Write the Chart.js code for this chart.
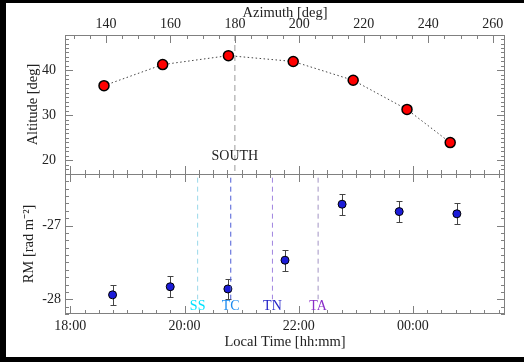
<!DOCTYPE html>
<html><head><meta charset="utf-8">
<script src="https://cdn.jsdelivr.net/npm/chart.js@4/dist/chart.umd.min.js"></script>
<style>
html,body{margin:0;padding:0;background:#000;width:100%;height:100%;overflow:hidden}
#wrap{position:absolute;left:6px;right:0;top:3px;height:354px;background:#fff}
canvas{position:absolute;left:0}
#c1{top:0}
#c2{top:171px}
</style></head><body>
<div id="wrap"><canvas id="c1" width="518" height="171"></canvas><canvas id="c2" width="518" height="183"></canvas></div>
<script>
// ---- data ----
const AZIMUTH = [139.4, 157.6, 178.0, 198.1, 216.7, 233.4, 246.8];
const ALTITUDE = [36.6, 41.3, 43.3, 42.0, 37.8, 31.3, 23.9];
const LOCAL_TIME_H = [18.74, 19.75, 20.76, 21.76, 22.76, 23.76, 24.77];
const RM = [-27.94, -27.83, -27.86, -27.47, -26.71, -26.81, -26.84];
const RM_ERR = [0.14, 0.14, 0.14, 0.14, 0.14, 0.14, 0.14];
const EVENT_NAMES = ['SS', 'TC', 'TN', 'TA'];
const EVENT_TIME_H = [20.23, 20.81, 21.54, 22.34];
const EVENT_LINE_COLORS = ['#9ad8ea', '#4b5bd6', '#a084e0', '#a394c4'];
const EVENT_TEXT_COLORS = ['#00e2ff', '#1e8cf0', '#2424c8', '#8a2ec8'];
const SOUTH_AZIMUTH = 180;
const AZ_TICKS = [140, 160, 180, 200, 220, 240, 260];
const ALT_TICKS = [20, 30, 40];
const TIME_TICKS = [18, 20, 22, 24];
const TIME_TICK_LABELS = ['18:00', '20:00', '22:00', '00:00'];
const RM_TICKS = [-28, -27];
const RM_TICK_LABELS = ['-28', '-27'];
// axis ranges
const AZ_RANGE = [127.3, 263.8];
const ALT_RANGE = [16.9, 47.9];
const TIME_RANGE = [17.907, 25.613];
const RM_RANGE = [-28.20, -26.30];

Chart.defaults.font.family = "'Liberation Serif', 'Times New Roman', serif";
Chart.defaults.color = '#222';
const FRAME = '#808080';
const TICK_FONT = {size: 14};
const TITLE_FONT = {size: 14.5};

function noPad(s) { s.paddingTop = 0; s.paddingBottom = 0; s.paddingLeft = 0; s.paddingRight = 0; }

function tickMarks(chart, scaleId, side, majors, minorStep) {
  const s = chart.scales[scaleId], a = chart.chartArea, ctx = chart.ctx;
  const lo = Math.min(s.min, s.max), hi = Math.max(s.min, s.max);
  ctx.beginPath();
  for (let k = Math.ceil(lo / minorStep - 1e-9); k * minorStep <= hi + 1e-9; k++) {
    const v = k * minorStep;
    const maj = majors.some(m => Math.abs(m - v) < minorStep / 10);
    const len = maj ? 8 : 4;
    const p = Math.round(s.getPixelForValue(v)) + 0.5;
    if (side === 'top') { ctx.moveTo(p, a.top); ctx.lineTo(p, a.top + len); }
    if (side === 'bottom') { ctx.moveTo(p, a.bottom); ctx.lineTo(p, a.bottom - len); }
    if (side === 'left') { ctx.moveTo(a.left, p); ctx.lineTo(a.left + len, p); }
    if (side === 'right') { ctx.moveTo(a.right, p); ctx.lineTo(a.right - len, p); }
  }
  ctx.stroke();
}

function frame(chart, sides) {
  const a = chart.chartArea, ctx = chart.ctx;
  const L = Math.round(a.left) + 0.5, R = Math.round(a.right) - 0.5;
  const T = Math.round(a.top) + 0.5, B = Math.round(a.bottom) - 0.5;
  ctx.beginPath();
  if (sides.includes('top')) { ctx.moveTo(L, T); ctx.lineTo(R, T); }
  if (sides.includes('bottom')) { ctx.moveTo(L, B); ctx.lineTo(R, B); }
  ctx.moveTo(L, a.top); ctx.lineTo(L, a.bottom);
  ctx.moveTo(R, a.top); ctx.lineTo(R, a.bottom);
  ctx.stroke();
}

// ---------------- top panel ----------------
const topPlugin = {
  id: 'topDeco',
  afterDatasetsDraw(chart) {
    const ctx = chart.ctx;
    ctx.save();
    ctx.strokeStyle = FRAME; ctx.lineWidth = 1;
    frame(chart, ['top']);
    tickMarks(chart, 'xAz', 'top', AZ_TICKS, 5);
    tickMarks(chart, 'xTime', 'bottom', TIME_TICKS, 0.25);
    tickMarks(chart, 'yAlt', 'left', ALT_TICKS, 1);
    tickMarks(chart, 'yAlt', 'right', ALT_TICKS, 1);
    ctx.fillStyle = '#222';
    ctx.font = "14px 'Liberation Serif', serif";
    ctx.textAlign = 'center'; ctx.textBaseline = 'middle';
    ctx.fillText('SOUTH', chart.scales.xAz.getPixelForValue(SOUTH_AZIMUTH), chart.scales.yAlt.getPixelForValue(20.75));
    ctx.restore();
  }
};

new Chart(document.getElementById('c1'), {
  type: 'scatter',
  data: {
    datasets: [
      {
        data: [{x: SOUTH_AZIMUTH, y: ALT_RANGE[1]}, {x: SOUTH_AZIMUTH, y: ALT_RANGE[0]}],
        xAxisID: 'xAz', yAxisID: 'yAlt', showLine: true, pointRadius: 0,
        borderColor: '#9a9a9a', borderWidth: 1, borderDash: [6, 4]
      },
      {
        data: AZIMUTH.map((az, i) => ({x: az, y: ALTITUDE[i]})),
        xAxisID: 'xAz', yAxisID: 'yAlt', showLine: true,
        borderColor: '#444', borderWidth: 1, borderDash: [1.5, 2.5],
        pointRadius: 5, pointBackgroundColor: '#ff0000', pointBorderColor: '#000', pointBorderWidth: 1.5
      }
    ]
  },
  options: {
    responsive: false, animation: false, devicePixelRatio: 1,
    layout: {autoPadding: false, padding: {left: 0, right: 19, top: 0, bottom: 0}},
    plugins: {legend: {display: false}, tooltip: {enabled: false}},
    scales: {
      xAz: {
        type: 'linear', axis: 'x', position: 'top', min: AZ_RANGE[0], max: AZ_RANGE[1],
        afterBuildTicks: s => { s.ticks = AZ_TICKS.map(v => ({value: v})); },
        ticks: {font: TICK_FONT, padding: 2, maxRotation: 0, autoSkip: false, callback: v => String(v)},
        grid: {display: false, drawTicks: false}, border: {display: false},
        title: {display: true, text: 'Azimuth [deg]', font: TITLE_FONT, padding: {top: 1, bottom: 0}},
        afterFit: s => { s.height = 32; noPad(s); }
      },
      xTime: {
        type: 'linear', axis: 'x', position: 'bottom', display: false, min: TIME_RANGE[0], max: TIME_RANGE[1],
        ticks: {display: false}, afterFit: s => { s.height = 0; noPad(s); }
      },
      yAlt: {
        type: 'linear', axis: 'y', position: 'left', min: ALT_RANGE[0], max: ALT_RANGE[1],
        afterBuildTicks: s => { s.ticks = ALT_TICKS.map(v => ({value: v})); },
        ticks: {font: TICK_FONT, padding: 9, callback: v => String(v)},
        grid: {display: false, drawTicks: false}, border: {display: false},
        title: {display: true, text: 'Altitude [deg]', font: TITLE_FONT, padding: {top: 18, bottom: 0}},
        afterFit: s => { s.width = 59; noPad(s); }
      }
    }
  },
  plugins: [topPlugin]
});

// ---------------- bottom panel ----------------
const bottomPlugin = {
  id: 'bottomDeco',
  beforeDatasetsDraw(chart) {
    const ctx = chart.ctx, xs = chart.scales.xTime, ys = chart.scales.yRM;
    ctx.save();
    ctx.strokeStyle = '#444'; ctx.lineWidth = 1;
    ctx.beginPath();
    LOCAL_TIME_H.forEach((t, i) => {
      const px = Math.round(xs.getPixelForValue(t)) + 0.5;
      const y1 = Math.round(ys.getPixelForValue(RM[i] + RM_ERR[i])) + 0.5;
      const y2 = Math.round(ys.getPixelForValue(RM[i] - RM_ERR[i])) + 0.5;
      ctx.moveTo(px, y1); ctx.lineTo(px, y2);
      ctx.moveTo(px - 3, y1); ctx.lineTo(px + 3, y1);
      ctx.moveTo(px - 3, y2); ctx.lineTo(px + 3, y2);
    });
    ctx.stroke();
    ctx.restore();
  },
  afterDatasetsDraw(chart) {
    const ctx = chart.ctx, xs = chart.scales.xTime, ys = chart.scales.yRM;
    ctx.save();
    ctx.strokeStyle = FRAME; ctx.lineWidth = 1;
    frame(chart, ['top', 'bottom']);
    tickMarks(chart, 'xTime', 'top', TIME_TICKS, 0.25);
    tickMarks(chart, 'xTime', 'bottom', TIME_TICKS, 0.25);
    tickMarks(chart, 'yRM', 'left', RM_TICKS, 0.1);
    tickMarks(chart, 'yRM', 'right', RM_TICKS, 0.1);
    ctx.font = "14px 'Liberation Serif', serif";
    ctx.textAlign = 'center'; ctx.textBaseline = 'middle';
    EVENT_NAMES.forEach((n, i) => {
      ctx.fillStyle = EVENT_TEXT_COLORS[i];
      ctx.fillText(n, xs.getPixelForValue(EVENT_TIME_H[i]), ys.getPixelForValue(-28.09));
    });
    ctx.restore();
  }
};

const eventDatasets = EVENT_TIME_H.map((t, i) => ({
  data: [{x: t, y: -26.35}, {x: t, y: -28.0}],
  xAxisID: 'xTime', yAxisID: 'yRM', showLine: true, pointRadius: 0,
  borderColor: EVENT_LINE_COLORS[i], borderWidth: 1, borderDash: [5, 4]
}));

new Chart(document.getElementById('c2'), {
  type: 'scatter',
  data: {
    datasets: eventDatasets.concat([{
      data: LOCAL_TIME_H.map((t, i) => ({x: t, y: RM[i]})),
      xAxisID: 'xTime', yAxisID: 'yRM',
      pointRadius: 4, pointBackgroundColor: '#1c1cd8', pointBorderColor: '#000', pointBorderWidth: 1
    }])
  },
  options: {
    responsive: false, animation: false, devicePixelRatio: 1,
    layout: {autoPadding: false, padding: {left: 0, right: 19, top: 0, bottom: 0}},
    plugins: {legend: {display: false}, tooltip: {enabled: false}},
    scales: {
      xTime: {
        type: 'linear', axis: 'x', position: 'bottom', min: TIME_RANGE[0], max: TIME_RANGE[1],
        afterBuildTicks: s => { s.ticks = TIME_TICKS.map(v => ({value: v})); },
        ticks: {font: TICK_FONT, padding: 4, maxRotation: 0, autoSkip: false,
          callback: v => TIME_TICK_LABELS[TIME_TICKS.indexOf(v)]},
        grid: {display: false, drawTicks: false}, border: {display: false},
        title: {display: true, text: 'Local Time [hh:mm]', font: TITLE_FONT, padding: {top: 0, bottom: 6.5}},
        afterFit: s => { s.height = 43; noPad(s); }
      },
      yRM: {
        type: 'linear', axis: 'y', position: 'left', min: RM_RANGE[0], max: RM_RANGE[1],
        afterBuildTicks: s => { s.ticks = RM_TICKS.map(v => ({value: v})); },
        ticks: {font: TICK_FONT, padding: 4, callback: v => RM_TICK_LABELS[RM_TICKS.indexOf(v)]},
        grid: {display: false, drawTicks: false}, border: {display: false},
        title: {display: true, text: 'RM [rad m\u207B\u00B2]', font: TITLE_FONT, padding: {top: 14, bottom: 0}},
        afterFit: s => { s.width = 59; noPad(s); }
      }
    }
  },
  plugins: [bottomPlugin]
});
</script>
</body></html>
